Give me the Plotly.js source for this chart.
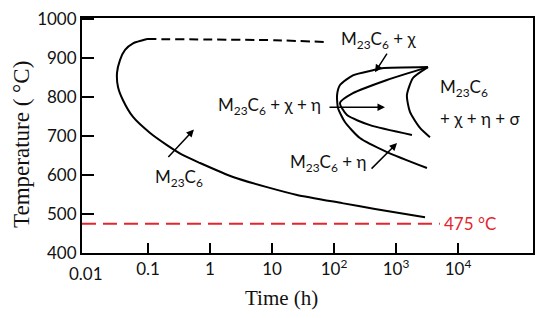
<!DOCTYPE html>
<html>
<head>
<meta charset="utf-8">
<script src="https://cdn.plot.ly/plotly-3.0.1.min.js"></script>
<style>
  html, body { margin: 0; padding: 0; background: #fff; }
  #chart { width: 550px; height: 318px; }
</style>
</head>
<body>
<div id="chart"></div>
<script>
// M23C6 start curve (C-curve), time in h, temperature in °C
const mainTime = [0.0964, 0.0573, 0.0426, 0.0353, 0.0316, 0.0328, 0.0395, 0.0573, 0.108, 0.202, 0.367, 0.69, 2.35, 8.3, 25.3, 135, 458, 2940];
const mainTemp = [949, 938, 921, 895, 862, 826, 792, 749, 708, 677, 651, 631, 595, 569, 549, 528, 513, 492];

// dashed upper part of the M23C6 curve
const dashTime = [0.0964, 11, 80];
const dashTemp = [949, 946, 941];

// chi / eta / sigma curves, all meeting at the tip
const chiTime = [3280, 594, 426, 202, 125, 112, 116, 150, 262, 716, 3160];
const chiTemp = [877, 874, 869, 856, 831, 805, 772, 736, 695, 659, 618];
const etaTime = [3280, 716, 202, 125, 162, 381, 1810];
const etaTemp = [877, 844, 810, 785, 754, 728, 703];
const sigmaTime = [3280, 1880, 1500, 1680, 2440, 3530];
const sigmaTemp = [877, 849, 805, 762, 721, 697];

// 475 °C line
const limitTime = [0.0086, 5100];
const limitTemp = [475, 475];

const xTickVals = [0.1, 1, 10, 100, 1000, 10000];
const xTickText = ['0.1', '1', '10', '10<sup>2</sup>', '10<sup>3</sup>', '10<sup>4</sup>'];
const yTickVals = [400, 500, 600, 700, 800, 900, 1000];

const M = 'M<sub>23</sub>C<sub>6</sub>';
const phaseLabels = [M, M + ' + χ', M + ' + χ + η', M, '+ χ + η + σ', M + ' + η'];
const limitLabel = '475 °C';

const sans = 'Lato, "Open Sans", sans-serif';
const serif = '"Liberation Serif", "Times New Roman", serif';

const curve = (x, y, dash, color) => ({
  x: x,
  y: y,
  type: 'scatter',
  mode: 'lines',
  line: {color: color || '#000', width: 2, dash: dash || 'solid', shape: 'spline', smoothing: 0.6},
  hoverinfo: 'skip'
});

const data = [
  curve(mainTime, mainTemp),
  curve(dashTime, dashTemp, '9px,5px'),
  curve(chiTime, chiTemp),
  curve(etaTime, etaTemp),
  curve(sigmaTime, sigmaTemp),
  curve(limitTime, limitTemp, '14px,7px', '#e3262d')
];

const lg = Math.log10;

const label = (text, t, temp, xanchor) => ({
  x: lg(t), y: temp, xref: 'x', yref: 'y',
  text: text, showarrow: false, xanchor: xanchor || 'center', yanchor: 'middle',
  font: {family: sans, size: 17, color: '#111'}
});

const arrow = (t, temp, ax, ay) => ({
  x: lg(t), y: temp, xref: 'x', yref: 'y',
  text: '', showarrow: true, ax: ax, ay: ay,
  arrowhead: 2, arrowsize: 1, arrowwidth: 1.5, arrowcolor: '#000'
});

const annotations = [
  label(phaseLabels[0], 0.316, 592),
  label(phaseLabels[1], 513, 946),
  label(phaseLabels[2], 66, 777, 'right'),
  label(phaseLabels[3], 4750, 823, 'left'),
  label(phaseLabels[4], 4750, 746, 'left'),
  label(phaseLabels[5], 80, 631),
  arrow(0.55, 717, -27, 29),
  arrow(458, 864, 13, -20),
  arrow(665, 774, -57, 0),
  arrow(1040, 682, -27, 27),
  {
    x: lg(5520), y: 475, xref: 'x', yref: 'y', text: limitLabel, showarrow: false,
    xanchor: 'left', yanchor: 'middle', font: {family: sans, size: 17, color: '#e3262d'}
  },
  {
    x: lg(0.01), y: 400, xref: 'x', yref: 'y', text: '0.01', showarrow: false,
    yanchor: 'top', yshift: -8, font: {family: sans, size: 17, color: '#111'}
  },
  {
    x: 0.443, y: -0.19, xref: 'paper', yref: 'paper', text: 'Time (h)', showarrow: false,
    xanchor: 'center', yanchor: 'middle', font: {family: serif, size: 21, color: '#111'}
  },
  {
    x: -0.133, y: 0.46, xref: 'paper', yref: 'paper', text: 'Temperature ( °C)', showarrow: false,
    textangle: -90, xanchor: 'center', yanchor: 'middle', font: {family: serif, size: 23, color: '#111'}
  }
];

const layout = {
  width: 550,
  height: 318,
  margin: {l: 82, r: 17, t: 18, b: 65},
  paper_bgcolor: '#fff',
  plot_bgcolor: '#fff',
  showlegend: false,
  xaxis: {
    type: 'log',
    range: [-2.065, 5.21],
    tickvals: xTickVals,
    ticktext: xTickText,
    ticks: 'inside',
    ticklen: 10,
    tickwidth: 2,
    tickcolor: '#000',
    showline: true,
    linewidth: 2,
    linecolor: '#000',
    mirror: true,
    showgrid: false,
    zeroline: false,
    tickfont: {family: sans, size: 17, color: '#111'}
  },
  yaxis: {
    range: [400, 1003],
    tickvals: yTickVals,
    ticks: 'inside',
    ticklen: 12,
    tickwidth: 2,
    tickcolor: '#000',
    showline: true,
    linewidth: 2,
    linecolor: '#000',
    mirror: true,
    showgrid: false,
    zeroline: false,
    tickfont: {family: sans, size: 17, color: '#111'}
  },
  annotations: annotations
};

Plotly.newPlot('chart', data, layout, {staticPlot: true});
</script>
</body>
</html>
